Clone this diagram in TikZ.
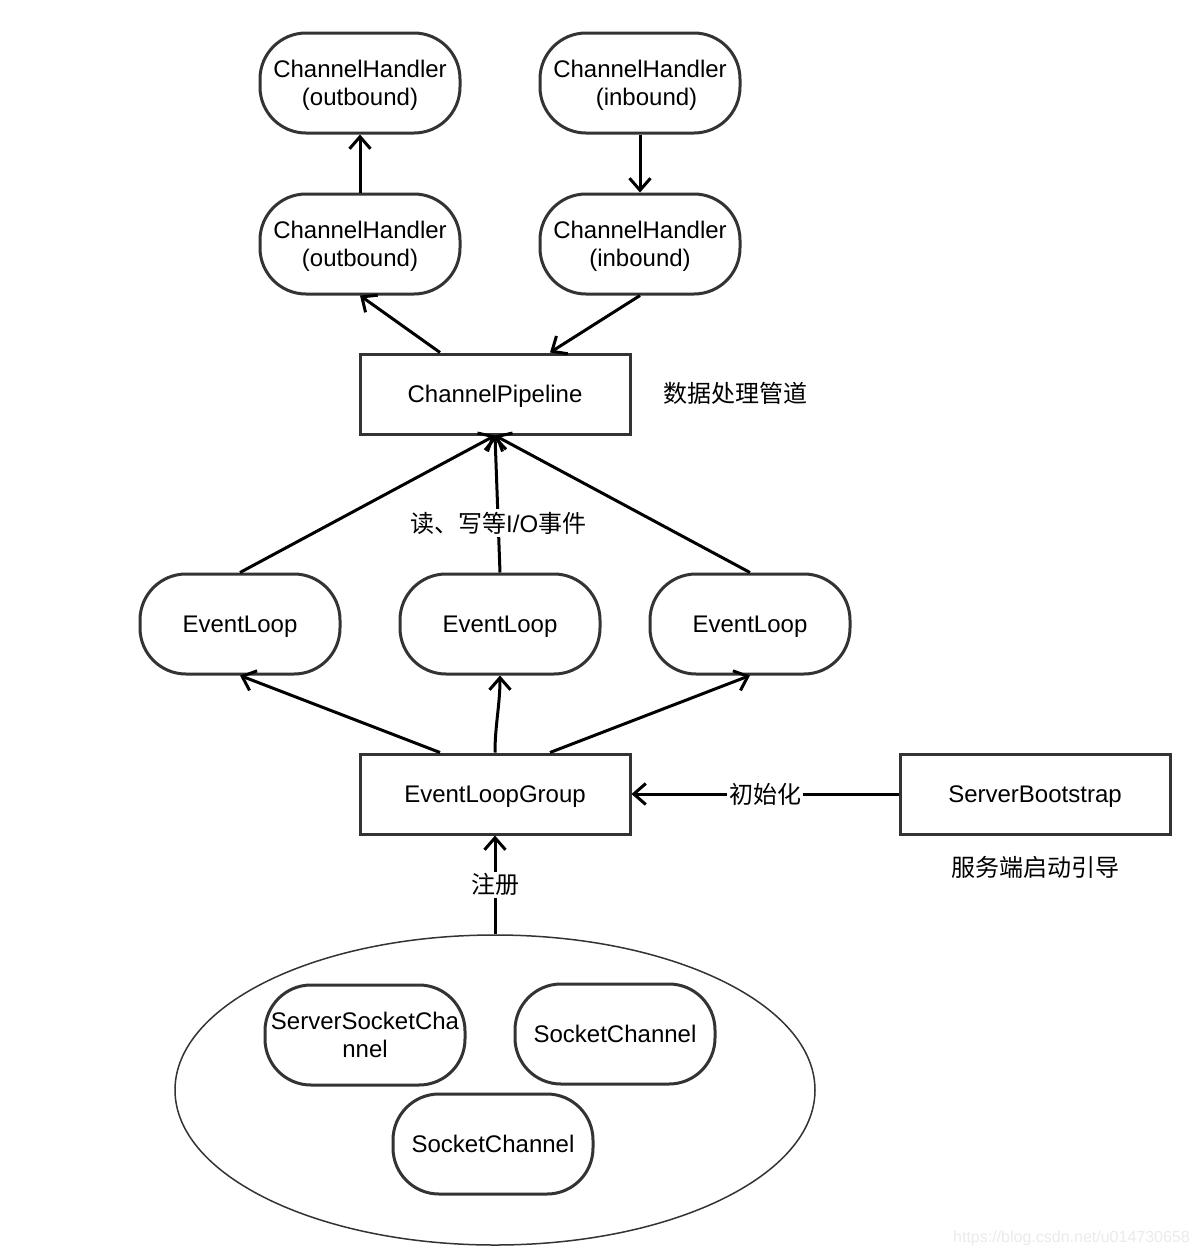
\documentclass[tikz,border=0pt]{standalone}
\usepackage{fontspec}
\setmainfont{Liberation Sans}
\newfontfamily\cjk{Noto Sans CJK SC}
\usetikzlibrary{arrows.meta,shapes.geometric}
\definecolor{edge}{HTML}{333333}
\tikzset{
  stadium/.style={draw=edge,line width=3pt,rounded corners=46pt,minimum width=200pt,minimum height=100pt,inner sep=0pt,align=center,text depth=0pt,font=\fontsize{24}{28}\selectfont},
  boxnode/.style={draw=edge,line width=3pt,minimum width=270pt,minimum height=80pt,inner sep=0pt,text depth=0pt,font=\fontsize{24}{28}\selectfont},
  plain/.style={inner sep=0pt,font=\fontsize{24}{28}\selectfont},
  conn/.style={line width=3pt,-{Straight Barb[length=12pt,width=21pt]}},
  elabel/.style={fill=white,inner sep=3pt,font=\fontsize{24}{28}\selectfont}
}
\begin{document}
\begin{tikzpicture}[x=1pt,y=-1pt]
\useasboundingbox[fill=white] (0,0) rectangle (1200,1256);
% handlers
\node[stadium] (ho1) at (360,83) {ChannelHandler\\(outbound)};
\node[stadium] (hi1) at (640,83) {ChannelHandler\\\hspace*{13pt}(inbound)};
\node[stadium] (ho2) at (360,244) {ChannelHandler\\(outbound)};
\node[stadium] (hi2) at (640,244) {ChannelHandler\\(inbound)};
% pipeline
\node[boxnode] (pipe) at (495,394) {ChannelPipeline};
\node[plain] (pipelbl) at (735,393) {\cjk 数据处理管道};
% event loops
\node[stadium] (el1) at (240,624) {EventLoop};
\node[stadium] (el2) at (500,624) {EventLoop};
\node[stadium] (el3) at (750,624) {EventLoop};
% group and bootstrap
\node[boxnode] (elg) at (495,794) {EventLoopGroup};
\node[boxnode] (sb) at (1035,794) {ServerBootstrap};
\node[plain] (sblbl) at (1035,867) {\cjk 服务端启动引导};
% channels
\node[draw=edge,line width=1.5pt,ellipse,minimum width=640pt,minimum height=310pt,inner sep=0pt] (chs) at (495,1090) {};
\node[stadium] (ssc) at (365,1035) {ServerSocketCha\\nnel};
\node[stadium] (sc1) at (615,1034) {SocketChannel};
\node[stadium] (sc2) at (493,1144) {SocketChannel};
% watermark
\node[inner sep=0pt,text=black!8,font=\fontsize{16}{18}\selectfont,anchor=east] (wm) at (1190,1238) {https://blog.csdn.net/u014730658};
% connectors
\draw[conn] (ho2.north) -- (ho1.south);
\draw[conn] (hi1.south) -- (hi2.north);
\draw[conn] ([xshift=-55pt]pipe.north) -- (ho2.south);
\draw[conn] (hi2.south) -- ([xshift=55pt]pipe.north);
\draw[conn] (el1.north) -- (pipe.south);
\draw[conn] (el3.north) -- (pipe.south);
\draw[conn] (el2.north) -- node[elabel,pos=0.36] (rwlbl) {\cjk 读、写等\rmfamily I/O\cjk 事件} (pipe.south);
\draw[conn] ([xshift=-55pt]elg.north) -- (el1.south);
\draw[conn] (elg.north) .. controls (495,725) and (500,705) .. (el2.south);
\draw[conn] ([xshift=55pt]elg.north) -- (el3.south);
\draw[conn] (sb.west) -- node[elabel,inner sep=2pt] (initlbl) {\cjk 初始化} (elg.east);
\draw[conn] (chs.north) -- node[elabel,inner sep=2pt] (reglbl) {\cjk 注册} (elg.south);
\end{tikzpicture}
\end{document}
